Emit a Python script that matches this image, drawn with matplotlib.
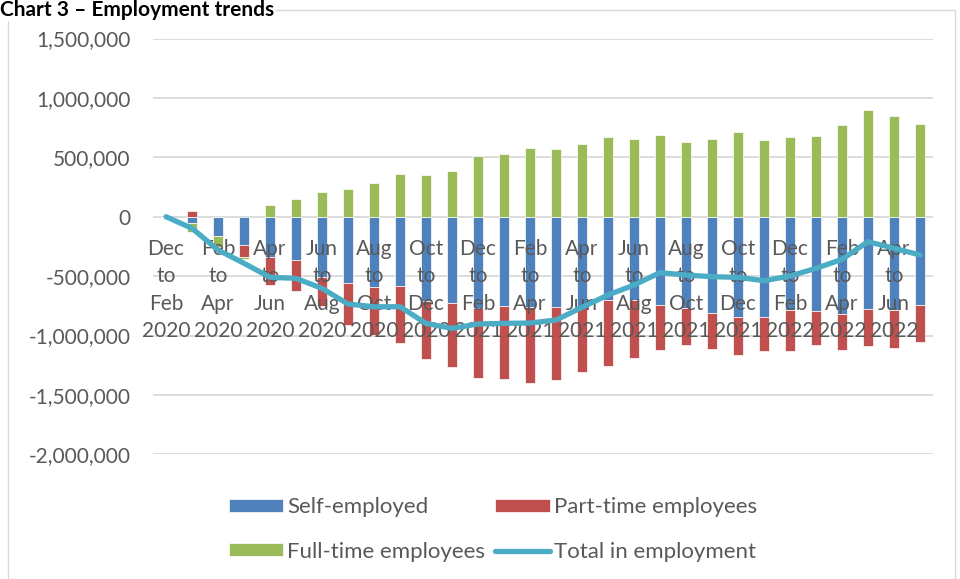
import numpy as np
import matplotlib.pyplot as plt
from matplotlib.patches import Rectangle
from matplotlib.ticker import FuncFormatter

# Períodos (trimestres móveis)
periods = ["Dec to Feb 2020", "Jan to Mar 2020", "Feb to Apr 2020", "Mar to May 2020",
           "Apr to Jun 2020", "May to Jul 2020", "Jun to Aug 2020", "Jul to Sep 2020",
           "Aug to Oct 2020", "Sep to Nov 2020", "Oct to Dec 2020", "Nov to Jan 2021",
           "Dec to Feb 2021", "Jan to Mar 2021", "Feb to Apr 2021", "Mar to May 2021",
           "Apr to Jun 2021", "May to Jul 2021", "Jun to Aug 2021", "Jul to Sep 2021",
           "Aug to Oct 2021", "Sep to Nov 2021", "Oct to Dec 2021", "Nov to Jan 2022",
           "Dec to Feb 2022", "Jan to Mar 2022", "Feb to Apr 2022", "Mar to May 2022",
           "Apr to Jun 2022", "May to Jul 2022"]

# Valores em milhares
self_employed = [0, -56, -162, -238, -343, -365, -508, -558, -589, -583,
                 -710, -729, -769, -754, -758, -756, -758, -701, -701, -745,
                 -769, -808, -842, -847, -785, -791, -821, -779, -785, -743]
part_time = [0, 50, 0, -104, -231, -258, -245, -354, -407, -482,
             -484, -536, -589, -609, -640, -615, -551, -556, -491, -374,
             -311, -308, -322, -284, -345, -293, -299, -310, -317, -311]
full_time = [0, -70, -90, -11, 98, 151, 210, 233, 283, 362,
             351, 381, 513, 528, 582, 570, 609, 668, 657, 688,
             629, 657, 710, 643, 671, 682, 769, 895, 845, 780]
total = [0, -98, -280, -392, -510, -519, -603, -735, -758, -758,
         -898, -940, -903, -898, -895, -870, -763, -659, -575, -471,
         -491, -505, -510, -539, -499, -435, -359, -210, -266, -322]

series = [("Self-employed", self_employed, "#4F81BD"),
          ("Part-time employees", part_time, "#C0504D"),
          ("Full-time employees", full_time, "#9BBB59")]

plt.rcParams['font.family'] = ['Lato', 'DejaVu Sans']
txt_color = '#595959'
grid_color = '#D9D9D9'

fig = plt.figure(figsize=(9.6, 5.79), dpi=100)
ax = fig.add_axes([153/960, 1 - 454.3/579, (933 - 153)/960, (454.3 - 38.5)/579])

x = np.arange(len(periods))
pos_base = np.zeros(len(periods))
neg_base = np.zeros(len(periods))
handles = {}
for name, vals, color in series:
    v = np.array(vals) * 1000.0
    bottom = np.where(v >= 0, pos_base, neg_base)
    handles[name] = ax.bar(x, v, width=0.4, bottom=bottom, color=color,
                           edgecolor='white', linewidth=0.5, zorder=1, label=name)
    pos_base = pos_base + np.where(v > 0, v, 0)
    neg_base = neg_base + np.where(v < 0, v, 0)

line, = ax.plot(x, np.array(total) * 1000.0, color='#4BACC6', linewidth=3.8,
                solid_capstyle='round', solid_joinstyle='round', zorder=2,
                label='Total in employment')

# Eixos
ax.set_xlim(-0.5, len(periods) - 0.5)
ax.set_ylim(-2000000, 1500000)
ax.set_yticks(np.arange(-2000000, 1500001, 500000))
ax.yaxis.set_major_formatter(FuncFormatter(lambda v, p: f"{v:,.0f}"))
for v in ax.get_yticks():
    ax.axhline(v, color=grid_color, linewidth=1.3, zorder=0)

ax.spines['bottom'].set_position(('data', 0))
for s in ax.spines.values():
    s.set_visible(False)

ax.set_xticks(x[::2])
ax.set_xticklabels([p.replace(' ', '\n') for p in periods[::2]])
for lbl in ax.get_xticklabels():
    lbl.set_linespacing(1.47)
ax.tick_params(axis='x', length=0, pad=16, labelsize=15, colors=txt_color)
ax.tick_params(axis='y', length=0, pad=16, labelsize=15, colors=txt_color)

# Legenda
leg = fig.legend([handles["Self-employed"], handles["Full-time employees"],
                  handles["Part-time employees"], line],
                 ["Self-employed", "Full-time employees",
                  "Part-time employees", "Total in employment"],
                 ncol=2, loc='center', bbox_to_anchor=(0.5135, 0.0855),
                 frameon=False, fontsize=16, handlelength=2.45, handleheight=0.5,
                 handletextpad=0.2, columnspacing=0.45, labelspacing=1.1)
for t in leg.get_texts():
    t.set_color(txt_color)

# Título e moldura
fig.text(0.0, 1.0, "Chart 3 \u2013 Employment trends", fontsize=15,
         fontweight='bold', va='top', ha='left',
         bbox=dict(facecolor='white', edgecolor='none', pad=1))
fig.patches.append(Rectangle((8/960, -0.05), (955 - 8)/960, 1 - 10/579 + 0.05,
                             transform=fig.transFigure, fill=False,
                             edgecolor=grid_color, linewidth=1))

plt.savefig('out.png', dpi=100)
